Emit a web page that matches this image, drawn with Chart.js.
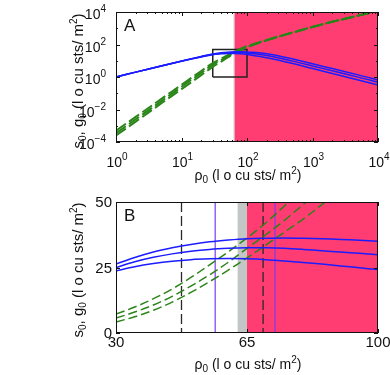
<!DOCTYPE html>
<html><head><meta charset="utf-8">
<script src="https://cdn.jsdelivr.net/npm/chart.js@4"></script>
<style>
html,body{margin:0;padding:0;background:#fff;width:390px;height:375px;overflow:hidden}
.box{position:absolute;left:0;width:390px}
</style></head><body>
<div class="box" style="top:0;height:187px"><canvas id="a"></canvas></div>
<div class="box" style="top:187px;height:188px"><canvas id="b"></canvas></div>
<script>
// ---------- Panel A data (log-log) ----------
const rhoA   = [1,2,5,10,20,30,40,50,65,80,100,200,500,1000,2000,5000,10000];
const sHighA = [1.0,2.0,4.9,9.6,18.4,26.3,30.9,33.8,36.0,36.2,35.0,27,13,6.5,3.3,1.35,0.65];
const sMidA  = [1.0,2.0,4.9,9.5,17.8,25.0,28.9,31.2,32.5,32.2,29.9,21,9.5,4.8,2.4,0.98,0.47];
const sLowA  = [1.0,2.0,4.8,9.3,17.2,23.7,26.5,28.0,28.3,27.0,24.2,15.5,6.8,3.3,1.65,0.66,0.32];
const gHighA = [5e-4,3.5e-3,0.047,0.33,2.35,7.2,13.1,21.2,36.3,55,80,190,560,1200,2500,6000,12000];
const gMidA  = [3.5e-4,2.5e-3,0.034,0.25,1.79,5.7,10.7,17.9,32.3,49,74,185,550,1190,2490,5990,11990];
const gLowA  = [2.5e-4,1.8e-3,0.025,0.18,1.3,4.2,8.7,15.5,28.7,43.5,68,180,540,1180,2480,5980,11980];
const zoomBoxX = [30,100,100,30,30];
const zoomBoxY = [1,1,50,50,1];
const xTicksA = [1,10,100,1000,10000];
const yTicksA = [1e-4,1e-2,1,1e2,1e4];
// ---------- Panel B data (linear) ----------
const rhoB   = [30,35,40,45,50,55,60,65,70,75,80,85,90,95,100];
const sHighB = [26.3,28.8,30.9,32.5,33.8,34.8,35.5,36.0,36.2,36.3,36.2,36.0,35.7,35.4,35.0];
const sMidB  = [25.0,27.2,28.9,30.2,31.2,31.9,32.3,32.5,32.5,32.3,31.9,31.4,30.9,30.4,29.9];
const sLowB  = [23.7,25.3,26.5,27.4,28.0,28.3,28.4,28.3,28.0,27.5,26.9,26.3,25.6,24.9,24.2];
const gHighB = [7.2,9.9,13.1,16.8,21.2,26.0,31.0,36.3,42.0,48.5,55];
const gMidB  = [5.7,8.0,10.7,14.0,17.9,22.2,27.0,32.3,37.5,43.0,49.0,55];
const gLowB  = [4.2,6.2,8.7,11.8,15.5,19.6,24.0,28.7,33.5,38.5,43.5,49.0,55];
const xTicksB = [30,65,100];
const yTicksB = [0,25,50];
// shaded regions and markers
const grayBand = [62.5,65];
const pinkBand = [65,10000];
const blackDashX = [47.5,69.3];
const purpleX = [56.5,72.5];

const BLUE='#1c1cff', GREEN='#2a8518', PINK='#ff3d72', GRAY='#c2c6c5', PURPLE='#7b3cf0';
const FONT='"Liberation Sans", Arial, sans-serif';

function pts(xs, ys){ return ys.map((y,i)=>({x:xs[i],y})); }
function line(data,color,dash,w){
  return {data,borderColor:color,borderWidth:w||1.5,borderDash:dash||[],pointRadius:0,
          fill:false,tension:0.35,clip:0};
}

function rich(ctx, segs, x, y, align){
  let w=0;
  segs.forEach(s=>{ctx.font=s[1]+'px '+FONT; w+=ctx.measureText(s[0]).width;});
  let cx = align==='right'? x-w : align==='center'? x-w/2 : x;
  segs.forEach(s=>{ctx.font=s[1]+'px '+FONT; ctx.fillText(s[0],cx,y+(s[2]||0)); cx+=ctx.measureText(s[0]).width;});
}

function makePlugin(opt){
  return {
    id:'deco'+opt.name,
    beforeDatasetsDraw(chart){
      const {ctx,chartArea:a,scales:{x,y}}=chart;
      ctx.save();
      const band=(r,c)=>{const x0=Math.max(a.left,x.getPixelForValue(r[0])),x1=Math.min(a.right,x.getPixelForValue(r[1]));
        ctx.fillStyle=c;ctx.fillRect(x0,a.top,x1-x0,a.bottom-a.top);};
      band(grayBand,GRAY);
      band([pinkBand[0],x.max],PINK);
      if(opt.vlines){
        ctx.lineWidth=1.3;ctx.strokeStyle='#2a2a2a';ctx.setLineDash([10,4]);
        blackDashX.forEach(v=>{const p=x.getPixelForValue(v);ctx.beginPath();ctx.moveTo(p,a.top);ctx.lineTo(p,a.bottom);ctx.stroke();});
        ctx.setLineDash([]);ctx.lineWidth=1.2;ctx.strokeStyle=PURPLE;
        purpleX.forEach(v=>{const p=x.getPixelForValue(v);ctx.beginPath();ctx.moveTo(p,a.top);ctx.lineTo(p,a.bottom);ctx.stroke();});
      }
      ctx.restore();
    },
    afterDraw(chart){
      const {ctx,chartArea:a,scales:{x,y}}=chart;
      ctx.save();
      ctx.strokeStyle='#111';ctx.lineWidth=1;
      ctx.strokeRect(a.left+0.5,a.top+0.5,a.right-a.left-1,a.bottom-a.top-1);
      const tk=(px,len,vert)=>{ctx.beginPath();
        if(vert){ctx.moveTo(px,a.bottom);ctx.lineTo(px,a.bottom-len);ctx.moveTo(px,a.top);ctx.lineTo(px,a.top+len);}
        else{ctx.moveTo(a.left,px);ctx.lineTo(a.left+len,px);ctx.moveTo(a.right,px);ctx.lineTo(a.right-len,px);}
        ctx.stroke();};
      opt.xTicks.forEach(v=>tk(Math.round(x.getPixelForValue(v))+0.5,4,true));
      opt.yTicks.forEach(v=>tk(Math.round(y.getPixelForValue(v))+0.5,4,false));
      if(opt.log){
        for(let d=1;d<10000;d*=10)for(let m=2;m<10;m++)tk(Math.round(x.getPixelForValue(d*m))+0.5,2,true);
        [1e-3,1e-1,10,1e3].forEach(v=>tk(Math.round(y.getPixelForValue(v))+0.5,2,false));
      }
      ctx.fillStyle='#111';ctx.textBaseline='alphabetic';
      if(opt.log){
        xTicksA.forEach(v=>{const p=x.getPixelForValue(v);const e=Math.round(Math.log10(v));
          rich(ctx,[['10',14,0],[String(e),10,-7]],p+1,167,'center');});
        yTicksA.forEach(v=>{const p=y.getPixelForValue(v);const e=Math.round(Math.log10(v));
          rich(ctx,[['10',14,0],[e<0?'\u2212'+(-e):String(e),10,-7]],106,p+7,'right');});
      } else {
        xTicksB.forEach(v=>{const p=x.getPixelForValue(v);rich(ctx,[[String(v),15,0]],p,160,'center');});
        yTicksB.forEach(v=>{const p=y.getPixelForValue(v);rich(ctx,[[String(v),15,0]],112,p+5,'right');});
      }
      const unit=[[' (l o cu sts/ m',14,0],['2',10,-6],[')',14,0]];
      rich(ctx,[['\u03c1',14,0],['0',10,3]].concat(unit),248,opt.xtY,'center');
      ctx.save();ctx.translate(83,opt.ytC);ctx.rotate(-Math.PI/2);
      const yunit=[[' (l o cu sts/ m',15,0],['2',10,-6],[')',15,0]];
      rich(ctx,[['s',15,0],['0',10,3],[', g',15,0],['0',10,3]].concat(yunit),0,0,'center');
      ctx.restore();
      ctx.font='17px '+FONT;ctx.fillText(opt.name,124,opt.letterY);
      ctx.restore();
    }
  };
}

const common = {responsive:true,maintainAspectRatio:false,animation:false,
  plugins:{legend:{display:false},tooltip:{enabled:false}}};

new Chart(document.getElementById('a'),{
  type:'line',
  data:{datasets:[
    line(pts(rhoA,sHighA),BLUE),line(pts(rhoA,sMidA),BLUE),line(pts(rhoA,sLowA),BLUE),
    line(pts(rhoA,gHighA),GREEN,[12,4],2),line(pts(rhoA,gMidA),GREEN,[12,4],2),line(pts(rhoA,gLowA),GREEN,[12,4],2),
    Object.assign(line(pts(zoomBoxX,zoomBoxY),'#222',[],1.5),{tension:0})
  ]},
  options:Object.assign({},common,{
    layout:{padding:{left:116,top:12,right:12,bottom:45}},
    scales:{x:{type:'logarithmic',min:1,max:10000,display:false},
            y:{type:'logarithmic',min:1e-4,max:1e4,display:false}}
  }),
  plugins:[makePlugin({name:'A',log:true,xTicks:xTicksA,yTicks:yTicksA,xtY:180,ytC:81,letterY:31})]
});

new Chart(document.getElementById('b'),{
  type:'line',
  data:{datasets:[
    line(pts(rhoB,sHighB),BLUE),line(pts(rhoB,sMidB),BLUE),line(pts(rhoB,sLowB),BLUE),
    line(pts(rhoB,gHighB),GREEN,[9,4]),line(pts(rhoB,gMidB),GREEN,[9,4]),line(pts(rhoB,gLowB),GREEN,[9,4])
  ]},
  options:Object.assign({},common,{
    layout:{padding:{left:116,top:15,right:12,bottom:42}},
    scales:{x:{type:'linear',min:30,max:100,display:false},
            y:{type:'linear',min:0,max:50,display:false}}
  }),
  plugins:[makePlugin({name:'B',log:false,vlines:true,xTicks:xTicksB,yTicks:yTicksB,xtY:182,ytC:83,letterY:34})]
});
</script>
</body></html>
